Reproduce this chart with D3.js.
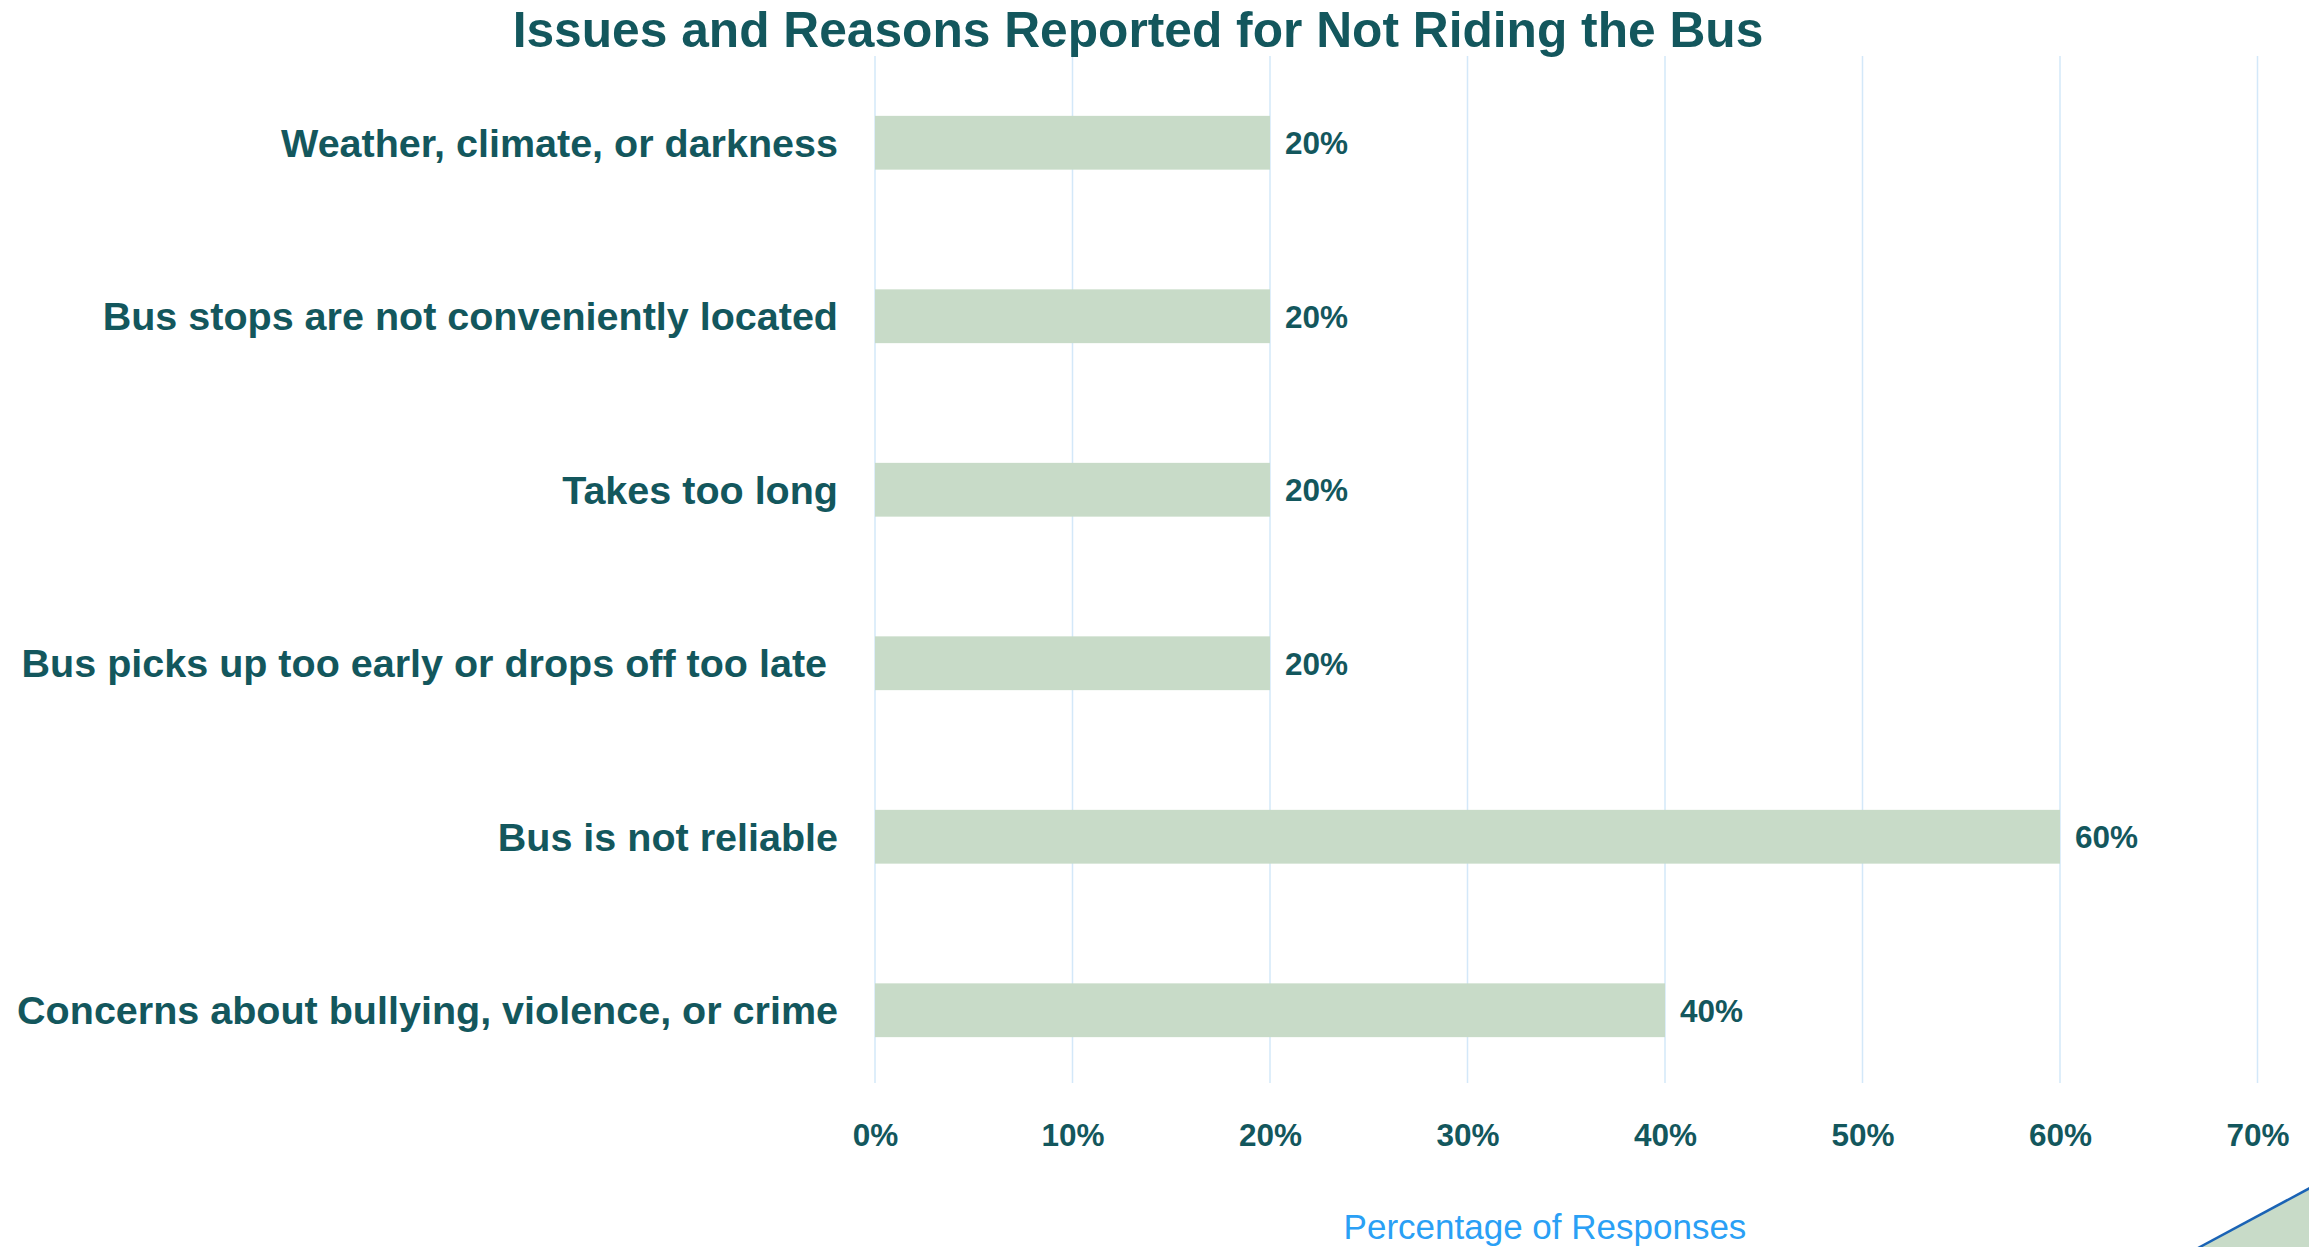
<!DOCTYPE html>
<html>
<head>
<meta charset="utf-8">
<script src="https://cdn.jsdelivr.net/npm/d3@7"></script>
<style>
  body { margin: 0; background: #fff; }
  svg { display: block; font-family: "Liberation Sans", Arial, sans-serif; }
</style>
</head>
<body>
<script>
// data, top to bottom as drawn
const categories = [
  'Weather, climate, or darkness',
  'Bus stops are not conveniently located',
  'Takes too long',
  'Bus picks up too early or drops off too late ',
  'Bus is not reliable',
  'Concerns about bullying, violence, or crime'
];
const percents = [20, 20, 20, 20, 60, 40];
const tickValues = [0, 10, 20, 30, 40, 50, 60, 70];

const width = 2309;
const height = 1247;
const margins = { top: 56, left: 875, bottom: 150, right: 51 };

const textColor = '#13575d';
const barColor = '#c8dbc8';
const gridColor = '#d3e8f9';

const svg = d3.select('body')
  .append('svg')
  .attr('width', width)
  .attr('height', height);

const xScale = d3.scaleLinear()
  .domain([0, 70])
  .range([margins.left, width - margins.right - 0.5]);

const yScale = d3.scaleBand()
  .domain(categories)
  .range([margins.top, 1097])
  .paddingInner(0.69)
  .paddingOuter(0.345);

const gridBottom = 1083;

// grid lines
svg.append('g')
  .attr('class', 'grid')
  .selectAll('line')
  .data(tickValues)
  .enter()
  .append('line')
  .attr('x1', d => xScale(d))
  .attr('x2', d => xScale(d))
  .attr('y1', margins.top)
  .attr('y2', gridBottom)
  .attr('stroke', gridColor)
  .attr('stroke-width', 1.5);

// x axis (labels only)
const xAxis = d3.axisBottom(xScale)
  .tickValues(tickValues)
  .tickFormat(d => d + '%')
  .tickSize(0)
  .tickPadding(0);

const xg = svg.append('g')
  .attr('class', 'x_axis')
  .attr('transform', 'translate(0,1146)')
  .call(xAxis);
xg.select('.domain').remove();
xg.selectAll('text')
  .attr('dy', 0)
  .attr('fill', textColor)
  .style('font-size', '31.5px')
  .style('font-weight', 'bold');

// y axis (category labels)
const yAxis = d3.axisLeft(yScale)
  .tickSize(0)
  .tickPadding(37);

const yg = svg.append('g')
  .attr('class', 'y_axis')
  .attr('transform', 'translate(' + margins.left + ',0)')
  .call(yAxis);
yg.select('.domain').remove();
yg.selectAll('text')
  .attr('fill', textColor)
  .attr('dy', '0.36em')
  .style('font-size', '39.5px')
  .style('font-weight', 'bold')
  .style('white-space', 'pre');

// bars
const rows = categories.map((c, i) => ({ name: c, value: percents[i] }));

svg.append('g')
  .attr('class', 'bars')
  .selectAll('rect')
  .data(rows)
  .enter()
  .append('rect')
  .attr('x', xScale(0))
  .attr('y', d => yScale(d.name))
  .attr('width', d => xScale(d.value) - xScale(0))
  .attr('height', yScale.bandwidth())
  .attr('fill', barColor);

// value labels
svg.append('g')
  .attr('class', 'values')
  .selectAll('text')
  .data(rows)
  .enter()
  .append('text')
  .attr('x', d => xScale(d.value) + 15)
  .attr('y', d => yScale(d.name) + yScale.bandwidth() / 2)
  .attr('dy', '0.36em')
  .attr('fill', textColor)
  .style('font-size', '31.5px')
  .style('font-weight', 'bold')
  .text(d => d.value + '%');

// title
svg.append('text')
  .attr('x', 1138)
  .attr('y', 47)
  .attr('text-anchor', 'middle')
  .attr('fill', textColor)
  .style('font-size', '49.7px')
  .style('font-weight', 'bold')
  .text('Issues and Reasons Reported for Not Riding the Bus');

// axis title
svg.append('text')
  .attr('x', 1545)
  .attr('y', 1239)
  .attr('text-anchor', 'middle')
  .attr('fill', '#2aa0f5')
  .style('font-size', '35px')
  .text('Percentage of Responses');

// corner wedge peeking in at bottom right
svg.append('path')
  .attr('d', 'M2198,1248 L2310,1188 L2310,1248 Z')
  .attr('fill', barColor);
svg.append('line')
  .attr('x1', 2198).attr('y1', 1248)
  .attr('x2', 2310).attr('y2', 1188)
  .attr('stroke', '#1a63b5')
  .attr('stroke-width', 2.5);
</script>
</body>
</html>
